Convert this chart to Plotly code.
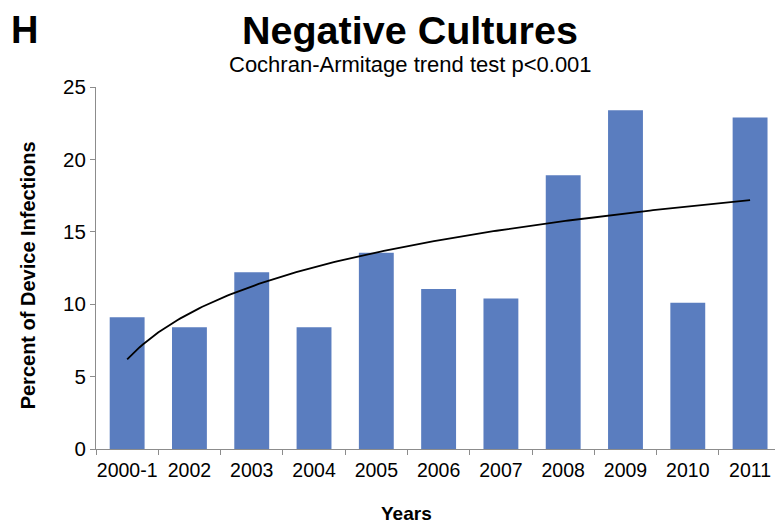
import numpy as np
import plotly.graph_objects as go

# Percent of device infections with negative cultures, by year
years = ["2000-1", "2002", "2003", "2004", "2005", "2006",
         "2007", "2008", "2009", "2010", "2011"]
percent_negative = [9.1, 8.4, 12.2, 8.4, 13.55, 11.05, 10.4, 18.9, 23.4, 10.1, 22.9]
y_ticks = [0, 5, 10, 15, 20, 25]

BAR_COLOR = "#5A7DBF"
AXIS_COLOR = "#8C8C8C"
FONT = "Liberation Sans, Arial, sans-serif"

# Logarithmic trend line (least squares fit of y on ln(period index))
idx = np.arange(1, len(years) + 1)
slope, intercept = np.polyfit(np.log(idx), percent_negative, 1)
xs = np.linspace(1, len(years), 200)
trend = intercept + slope * np.log(xs)

fig = go.Figure()
fig.add_trace(go.Bar(
    x=years, y=percent_negative, marker_color=BAR_COLOR,
    marker_line_width=0, width=0.56, showlegend=False,
))
fig.add_trace(go.Scatter(
    x=xs - 1, y=trend, mode="lines", xaxis="x2",
    line=dict(color="black", width=1.8), showlegend=False,
))

fig.update_layout(
    width=775, height=525,
    margin=dict(l=96, r=0, t=87, b=76),
    paper_bgcolor="white", plot_bgcolor="white",
    font=dict(family=FONT, color="black"),
    xaxis=dict(
        type="category", range=[-0.5, 10.4],
        showline=True, linecolor=AXIS_COLOR, linewidth=1.2,
        ticks="outside", tickson="boundaries", ticklen=5,
        tickcolor=AXIS_COLOR, tickwidth=1.2, tickangle=0, ticklabelstandoff=3,
        tickfont=dict(size=19.5, family=FONT), showgrid=False, zeroline=False,
    ),
    xaxis2=dict(overlaying="x", range=[-0.5, 10.4], visible=False),
    yaxis=dict(
        range=[0, 25], tickvals=y_ticks,
        showline=True, linecolor=AXIS_COLOR, linewidth=1.2,
        ticks="outside", ticklen=5, tickcolor=AXIS_COLOR, tickwidth=1.2,
        tickfont=dict(size=20.5, family=FONT), showgrid=False, zeroline=False,
    ),
    annotations=[
        dict(text="<b>Negative Cultures</b>", xref="paper", yref="paper",
             x=0.462, y=1.157, xanchor="center", yanchor="middle",
             showarrow=False, font=dict(size=39.5, family=FONT)),
        dict(text="Cochran-Armitage trend test p<0.001", xref="paper", yref="paper",
             x=0.463, y=1.063, xanchor="center", yanchor="middle",
             showarrow=False, font=dict(size=22, family=FONT)),
        dict(text="<b>H</b>", xref="paper", yref="paper",
             x=-0.105, y=1.157, xanchor="center", yanchor="middle",
             showarrow=False, font=dict(size=38, family=FONT)),
        dict(text="<b>Percent of Device Infections</b>", xref="paper", yref="paper",
             x=-0.1, y=0.48, xanchor="center", yanchor="middle", textangle=-90,
             showarrow=False, font=dict(size=20, family=FONT)),
        dict(text="<b>Years</b>", xref="paper", yref="paper",
             x=0.457, y=-0.177, xanchor="center", yanchor="middle",
             showarrow=False, font=dict(size=19, family=FONT)),
    ],
)

fig.write_html("out.html")
